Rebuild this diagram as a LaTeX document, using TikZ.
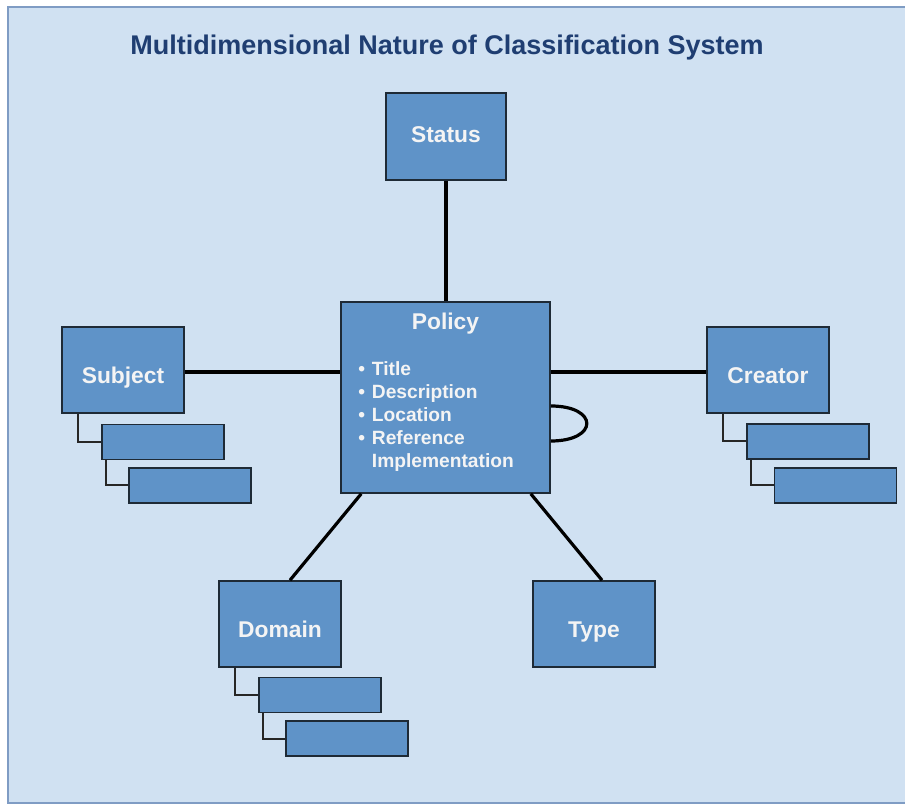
\documentclass[tikz,border=0pt]{standalone}
\usepackage{fontspec}
\setmainfont{Liberation Sans}
\usetikzlibrary{calc}
\definecolor{panelbg}{HTML}{D0E1F2}
\definecolor{panelline}{HTML}{7F9CC4}
\definecolor{boxfill}{HTML}{5F93C8}
\definecolor{boxline}{HTML}{1E2A36}
\definecolor{titleblue}{HTML}{1F3E72}
\definecolor{labelwhite}{HTML}{F4F4F4}
\tikzset{
  box/.style={draw=boxline, fill=boxfill, line width=0.8pt, inner sep=0pt,
    text=labelwhite, font=\fontsize{11.4}{13}\selectfont\bfseries},
  mainbox/.style={box, minimum width=61pt, minimum height=43pt, text height=13.2pt, text depth=0pt},
  subbox/.style={box, minimum width=61pt, minimum height=17.5pt},
  mainlink/.style={line width=1.6pt, draw=black},
  sublink/.style={line width=1pt, draw=black!85},
}
\begin{document}
\begin{tikzpicture}[x=0.5pt, y=-0.5pt]
\useasboundingbox (0,0) rectangle (905,806);
\fill[white] (0,0) rectangle (905,806);
\draw[fill=panelbg, draw=panelline, line width=0.9pt] (8,7) rectangle (912,803);

\node[font=\fontsize{13.5}{15}\selectfont\bfseries, text=titleblue] (title) at (447,48) {Multidimensional Nature of Classification System};

% boxes
\node[box, minimum width=60pt, minimum height=43.5pt, text height=5.7pt, text depth=0pt] (status) at (446,136.5) {Status};
\node[box, minimum width=104.5pt, minimum height=95.5pt] (policy) at (445.5,397.5) {};
\node[text=labelwhite, font=\fontsize{11.4}{13}\selectfont\bfseries, anchor=base, inner sep=0pt] (ptitle) at (445.5,330) {Policy};
\node[text=labelwhite, font=\fontsize{9.6}{11.5}\selectfont\bfseries, anchor=base west, inner sep=0pt] (plist) at (358,376)
  {\begin{tabular}[t]{@{}l@{\hspace{3.4pt}}l@{}}
   \textbullet & Title\\
   \textbullet & Description\\
   \textbullet & Location\\
   \textbullet & Reference\\
               & Implementation
   \end{tabular}};

\node[mainbox] (subject) at (123,370) {Subject};
\node[subbox] (subject1) at (163,442) {};
\node[subbox] (subject2) at (190,485.5) {};

\node[mainbox] (creator) at (768,370) {Creator};
\node[subbox] (creator1) at (808,441.5) {};
\node[subbox] (creator2) at (835.5,485.5) {};

\node[mainbox] (domain) at (280,624) {Domain};
\node[subbox] (domain1) at (320,695) {};
\node[subbox] (domain2) at (347,738.5) {};

\node[mainbox] (type) at (594,624) {Type};

% main connectors
\draw[mainlink] (status.south) -- (status.south |- policy.north);
\draw[mainlink] ($(subject.east)+(0,2)$) -- ($(policy.west |- subject.east)+(0,2)$);
\draw[mainlink] ($(policy.east |- creator.west)+(0,2)$) -- ($(creator.west)+(0,2)$);
\draw[mainlink] ($(policy.south west)+(21,0)$) -- ($(domain.north)+(10,0)$);
\draw[mainlink] ($(policy.south east)+(-20,0)$) -- ($(type.north)+(8,0)$);
\coordinate (loopa) at ($(policy.east)+(0,8.5)$);
\coordinate (loopb) at ($(policy.east)+(0,43.5)$);
\draw[mainlink] (loopa) .. controls ($(loopa)+(48,0)$) and ($(loopb)+(48,0)$) .. (loopb);

% sub connectors
\draw[sublink] ($(subject.south west)+(17,0)$) |- (subject1.west);
\draw[sublink] ($(subject1.south west)+(5,0)$) |- (subject2.west);
\draw[sublink] ($(creator.south west)+(17,0)$) |- (creator1.west);
\draw[sublink] ($(creator1.south west)+(5,0)$) |- (creator2.west);
\draw[sublink] ($(domain.south west)+(17,0)$) |- (domain1.west);
\draw[sublink] ($(domain1.south west)+(5,0)$) |- (domain2.west);
\end{tikzpicture}
\end{document}
